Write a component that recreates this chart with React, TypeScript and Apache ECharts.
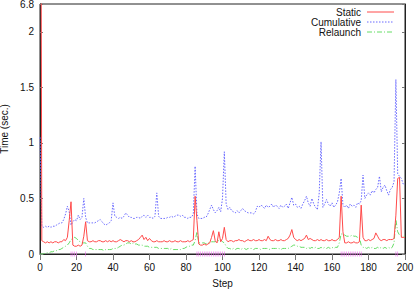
import React, { useEffect, useRef } from "react";
import * as echarts from "echarts";

// Values per step (index = step, 0..200)
const staticTimes = [
  6.8, 0.12, 0.11, 0.1, 0.11, 0.1, 0.11, 0.1, 0.11, 0.11,
  0.1, 0.11, 0.11, 0.13, 0.12, 0.15, 0.3, 0.47, 0.08, 0.07,
  0.07, 0.08, 0.07, 0.08, 0.16, 0.29, 0.12, 0.11, 0.11, 0.12,
  0.11, 0.11, 0.12, 0.12, 0.11, 0.11, 0.12, 0.11, 0.12, 0.11,
  0.12, 0.11, 0.11, 0.12, 0.13, 0.12, 0.11, 0.12, 0.12, 0.11,
  0.12, 0.11, 0.11, 0.12, 0.13, 0.15, 0.17, 0.13, 0.15, 0.12,
  0.14, 0.12, 0.11, 0.11, 0.12, 0.11, 0.11, 0.11, 0.12, 0.11,
  0.11, 0.12, 0.11, 0.11, 0.12, 0.11, 0.11, 0.12, 0.11, 0.11,
  0.11, 0.12, 0.11, 0.12, 0.13, 0.52, 0.3, 0.09, 0.08, 0.08,
  0.09, 0.08, 0.09, 0.1, 0.15, 0.21, 0.12, 0.1, 0.2, 0.11,
  0.14, 0.24, 0.13, 0.11, 0.12, 0.12, 0.11, 0.12, 0.12, 0.13,
  0.12, 0.12, 0.11, 0.12, 0.13, 0.12, 0.12, 0.13, 0.12, 0.12,
  0.13, 0.12, 0.12, 0.13, 0.12, 0.16, 0.13, 0.12, 0.12, 0.13,
  0.12, 0.12, 0.13, 0.12, 0.12, 0.13, 0.14, 0.17, 0.22, 0.15,
  0.13, 0.12, 0.13, 0.12, 0.13, 0.14, 0.17, 0.13, 0.14, 0.13,
  0.12, 0.12, 0.13, 0.12, 0.13, 0.12, 0.12, 0.13, 0.12, 0.12,
  0.13, 0.12, 0.12, 0.13, 0.15, 0.52, 0.2, 0.1, 0.1, 0.11,
  0.1, 0.1, 0.11, 0.1, 0.1, 0.11, 0.44, 0.15, 0.12, 0.12,
  0.13, 0.12, 0.13, 0.14, 0.19, 0.16, 0.13, 0.12, 0.13, 0.13,
  0.12, 0.13, 0.13, 0.13, 0.14, 0.35, 0.68, 0.69, 0.15, 0.15,
  0.15,
];

const cumulativeTimes = [
  1.05, 0.25, 0.24, 0.25, 0.24, 0.25, 0.24, 0.25, 0.25, 0.26,
  0.27, 0.28, 0.28, 0.31, 0.36, 0.43, 0.38, 0.26, 0.29, 0.31,
  0.3, 0.35, 0.31, 0.33, 0.5, 0.33, 0.28, 0.28, 0.28, 0.28,
  0.28, 0.29, 0.3, 0.31, 0.29, 0.27, 0.26, 0.27, 0.28, 0.3,
  0.46, 0.34, 0.33, 0.32, 0.33, 0.32, 0.34, 0.37, 0.35, 0.33,
  0.33, 0.32, 0.32, 0.33, 0.33, 0.32, 0.34, 0.35, 0.33, 0.35,
  0.33, 0.33, 0.32, 0.34, 0.55, 0.34, 0.32, 0.32, 0.32, 0.32,
  0.33, 0.33, 0.34, 0.33, 0.34, 0.35, 0.35, 0.34, 0.35, 0.33,
  0.33, 0.32, 0.33, 0.33, 0.36, 0.79, 0.36, 0.32, 0.32, 0.32,
  0.33, 0.33, 0.36, 0.4, 0.44, 0.4, 0.37, 0.39, 0.42, 0.38,
  0.5, 0.92, 0.45, 0.4, 0.42, 0.39, 0.38, 0.37, 0.39, 0.37,
  0.39, 0.41, 0.39, 0.38, 0.37, 0.37, 0.37, 0.36, 0.38, 0.43,
  0.42, 0.44, 0.43, 0.41, 0.44, 0.42, 0.43, 0.45, 0.42, 0.44,
  0.43, 0.41, 0.44, 0.42, 0.43, 0.45, 0.41, 0.46, 0.51, 0.44,
  0.45, 0.42, 0.43, 0.41, 0.45, 0.48, 0.52, 0.46, 0.43, 0.5,
  0.45, 0.42, 0.4, 0.55, 1.01, 0.42, 0.45, 0.49, 0.45, 0.43,
  0.46, 0.42, 0.44, 0.47, 0.55, 0.68, 0.44, 0.42, 0.44, 0.41,
  0.45, 0.43, 0.44, 0.42, 0.46, 0.45, 0.48, 0.71, 0.5, 0.53,
  0.55, 0.53, 0.57, 0.55, 0.58, 0.6, 0.7, 0.56, 0.6, 0.62,
  0.57, 0.53, 0.58, 0.6, 0.65, 1.57, 0.72, 0.7, 0.68, 0.63,
  0.62,
];

const relaunchTimes = [
  0, 0, 0, 0.01, 0.01, 0.01, 0.02, 0.02, 0.03, 0.03,
  0.04, 0.04, 0.05, 0.06, 0.07, 0.08, 0.1, 0.13, 0.14, 0.15,
  0.14, 0.12, 0.11, 0.1, 0.1, 0.1, 0.07, 0.05, 0.05, 0.04,
  0.04, 0.04, 0.04, 0.04, 0.04, 0.03, 0.04, 0.04, 0.04, 0.04,
  0.05, 0.05, 0.05, 0.06, 0.07, 0.08, 0.08, 0.09, 0.1, 0.1,
  0.09, 0.1, 0.09, 0.09, 0.08, 0.08, 0.08, 0.07, 0.07, 0.07,
  0.06, 0.06, 0.06, 0.06, 0.06, 0.05, 0.05, 0.05, 0.05, 0.05,
  0.05, 0.04, 0.05, 0.04, 0.04, 0.04, 0.04, 0.04, 0.05, 0.05,
  0.06, 0.07, 0.07, 0.08, 0.08, 0.12, 0.2, 0.1, 0.1, 0.1,
  0.1, 0.09, 0.1, 0.1, 0.11, 0.11, 0.11, 0.12, 0.12, 0.13,
  0.11, 0.1, 0.07, 0.05, 0.05, 0.04, 0.05, 0.04, 0.05, 0.05,
  0.04, 0.05, 0.05, 0.04, 0.05, 0.05, 0.05, 0.04, 0.05, 0.05,
  0.05, 0.04, 0.05, 0.05, 0.05, 0.05, 0.04, 0.05, 0.05, 0.05,
  0.05, 0.05, 0.04, 0.05, 0.05, 0.05, 0.05, 0.06, 0.07, 0.08,
  0.08, 0.07, 0.07, 0.06, 0.06, 0.06, 0.05, 0.06, 0.05, 0.06,
  0.05, 0.06, 0.05, 0.05, 0.06, 0.05, 0.06, 0.05, 0.06, 0.05,
  0.06, 0.05, 0.06, 0.06, 0.1, 0.18, 0.18, 0.17, 0.16, 0.16,
  0.16, 0.17, 0.16, 0.16, 0.15, 0.15, 0.08, 0.06, 0.06, 0.05,
  0.06, 0.05, 0.06, 0.05, 0.05, 0.06, 0.05, 0.06, 0.05, 0.06,
  0.05, 0.06, 0.05, 0.06, 0.1, 0.31, 0.2, 0.17, 0.16, 0.16,
  0.16,
];

// Steps marked along the x axis
const relaunchSteps = [
  17, 18, 19, 20, 25,
  86, 87, 88, 89, 90, 91, 92, 93, 94, 95, 96, 97, 98, 99, 100, 101,
  165, 166, 167, 168, 169, 170, 171, 172, 173, 174, 175, 176,
  195, 196,
];

const yTopValue = 2.25;
const yTopLabel = "6.8";

const seriesNames = ["Static", "Cumulative", "Relaunch"];

const FONT = "Liberation Sans, Arial, Helvetica, sans-serif";

export default function App() {
  const ref = useRef<HTMLDivElement>(null);
  useEffect(() => {
    if (!ref.current) return;
    const chart = echarts.init(ref.current, undefined, { renderer: "svg" });
    const toPairs = (arr: number[]) => arr.map((v, i) => [i, v]);
    const legendY = [12, 22, 32];
    const legendColors = ["#ff4a4a", "#6a6aff", "#66dd66"];
    const legendDash: any[] = [null, [1.5, 1.5], [5, 2, 1, 2]];
    const graphics: any[] = [];
    seriesNames.forEach((n, i) => {
      graphics.push({
        type: "text",
        x: 361,
        y: legendY[i],
        style: {
          text: n,
          align: "right",
          verticalAlign: "middle",
          font: `10px ${FONT}`,
          fill: "#111",
        },
      });
      graphics.push({
        type: "line",
        shape: { x1: 367, y1: legendY[i], x2: 394, y2: legendY[i] },
        style: {
          stroke: legendColors[i],
          lineWidth: 1,
          lineDash: legendDash[i] || undefined,
        },
      });
    });

    const option: any = {
      animation: false,
      backgroundColor: "#fff",
      grid: {
        left: 40,
        right: 10,
        top: 4,
        bottom: 37,
        outerBoundsMode: "none",
        containLabel: false,
        show: true,
        borderColor: "#222",
        borderWidth: 1,
      },
      xAxis: {
        type: "value",
        min: 0,
        max: 200,
        interval: 20,
        name: "Step",
        nameLocation: "middle",
        nameGap: 24,
        nameTextStyle: { fontFamily: FONT, fontSize: 10, color: "#111" },
        axisLine: { show: true, lineStyle: { color: "#222", width: 1 } },
        axisTick: { show: true, inside: false, length: 6, lineStyle: { color: "#777" } },
        axisLabel: { fontFamily: FONT, fontSize: 10, color: "#111", margin: 8 },
        splitLine: { show: false },
      },
      yAxis: [
        {
          type: "value",
          min: 0,
          max: yTopValue,
          interval: 0.5,
          name: "Time (sec.)",
          nameLocation: "middle",
          nameGap: 26,
          nameTextStyle: { fontFamily: FONT, fontSize: 10, color: "#111" },
          axisLine: { show: true, lineStyle: { color: "#222", width: 1 } },
          axisTick: { show: true, inside: true, length: 3, lineStyle: { color: "#777" } },
          axisLabel: {
            fontFamily: FONT,
            fontSize: 10,
            color: "#111",
            margin: 6,
            showMaxLabel: true,
            formatter: (v: number) => (v > 2.1 ? yTopLabel : String(v)),
          },
          splitLine: { show: false },
        },
        {
          type: "value",
          position: "right",
          min: 0,
          max: yTopValue,
          interval: 0.5,
          axisLine: { show: true, lineStyle: { color: "#222", width: 1 } },
          axisTick: { show: true, inside: true, length: 3, lineStyle: { color: "#777" } },
          axisLabel: { show: false },
          splitLine: { show: false },
        },
      ],
      graphic: graphics,
      series: [
        {
          name: "Relaunch",
          type: "line",
          data: toPairs(relaunchTimes),
          showSymbol: false,
          clip: true,
          lineStyle: { color: legendColors[2], width: 1, type: [5, 2, 1, 2] },
        },
        {
          name: "Cumulative",
          type: "line",
          data: toPairs(cumulativeTimes),
          showSymbol: false,
          clip: true,
          lineStyle: { color: legendColors[1], width: 1, type: [1.5, 1.5] },
        },
        {
          name: "Static",
          type: "line",
          data: toPairs(staticTimes),
          showSymbol: false,
          clip: true,
          lineStyle: { color: legendColors[0], width: 1 },
        },
        {
          name: "marks",
          type: "scatter",
          data: relaunchSteps.map((s) => [s, 0]),
          symbol: "rect",
          symbolSize: [0.7, 5],
          itemStyle: { color: "#ee66ee" },
          clip: false,
        },
      ],
    };
    chart.setOption(option);
    return () => chart.dispose();
  }, []);
  return <div ref={ref} style={{ width: 415, height: 291, position: "absolute", left: 0, top: 0 }} />;
}
